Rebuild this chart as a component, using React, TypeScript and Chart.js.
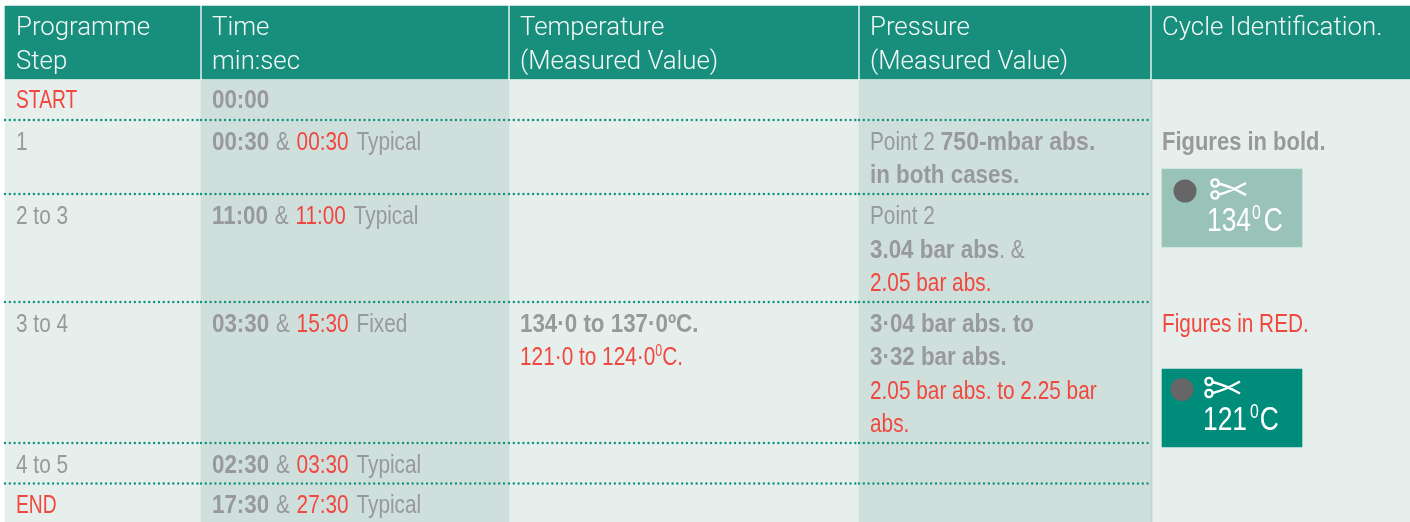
import React, { useEffect, useRef } from "react";
import { Chart, registerables } from "chart.js";

Chart.register(...registerables);

// ---- table content ----
const headerLines = [
  ["Programme", "Step"],
  ["Time", "min:sec"],
  ["Temperature", "(Measured Value)"],
  ["Pressure", "(Measured Value)"],
  ["Cycle Identification."],
];
const steps = ["START", "1", "2 to 3", "3 to 4", "4 to 5", "END"];
const startTime = "00:00";
const time134 = ["00:30", "11:00", "03:30", "02:30", "17:30"];
const time121 = ["00:30", "11:00", "15:30", "03:30", "27:30"];
const timeNotes = ["Typical", "Typical", "Fixed", "Typical", "Typical"];
const temp134 = "134·0 to 137·0ºC.";
const temp121 = ["121·0 to 124·0", "0", "C."];
const pressure1 = ["Point 2 ", "750-mbar abs.", "in both cases."];
const pressure2 = ["Point 2", "3.04 bar abs", ". &", "2.05 bar abs."];
const pressure3 = ["3·04 bar abs. to", "3·32 bar abs.", "2.05 bar abs. to 2.25 bar", "abs."];
const legendBold = "Figures in bold.";
const legendRed = "Figures in RED.";
const badge134 = ["134", "0", "C"];
const badge121 = ["121", "0", "C"];

// ---- layout on the chart's own pixel-like axes ----
const W = 1410;
const H = 522;
const colEdges = [5, 201, 509, 859, 1151, 1410];
const headerTop = 6;
const headerBottom = 79;
const rowLines = [120, 194, 302, 443, 483.5];
const GREEN = "#188e7d";
const BODY = "#e6efec";
const SHADE = "#cfe0dc";
const RED = "#f0483f";
const GREY = "#97999b";
const DOT = "#0f937f";

type Run = { t: string; c?: string; b?: boolean; sup?: boolean; sx?: number; gap?: number };

const FONT = '"Liberation Sans"';
const LIGHT = "Roboto";
const SX_REG = 0.8;
const SX_BOLD = 0.86;

function rect(x0: number, x1: number, y0: number, y1: number, color: string, order: number) {
  return {
    type: "bar" as const,
    indexAxis: "y" as const,
    data: [{ x: [x0, x1], y: (y0 + y1) / 2 }],
    backgroundColor: color,
    borderWidth: 0,
    barThickness: y1 - y0,
    grouped: false,
    order,
  };
}

function buildDatasets() {
  const ds: any[] = [];
  // body cells
  ds.push(rect(colEdges[0], W, headerBottom + 1, H, BODY, 9));
  ds.push(rect(colEdges[1], colEdges[2], headerBottom + 1, H, SHADE, 8));
  ds.push(rect(colEdges[3], colEdges[4], headerBottom + 1, H, SHADE, 8));
  ds.push(rect(colEdges[4], colEdges[4] + 1, headerBottom + 1, H, "#bcd8d1", 7));
  // header cells
  for (let i = 0; i < 5; i++) {
    ds.push(rect(colEdges[i] + (i ? 1 : 0), colEdges[i + 1] - (i < 4 ? 1 : 0), headerTop, headerBottom, GREEN, 7));
  }
  // badges
  ds.push(rect(1162, 1302, 169, 247, "#99c2b8", 6));
  ds.push(rect(1162, 1302, 369, 447, "#008c7a", 6));
  // dotted rules
  for (const y of rowLines) {
    for (let i = 0; i < 4; i++) {
      ds.push({
        type: "scatter",
        showLine: true,
        data: [
          { x: colEdges[i], y },
          { x: colEdges[i + 1] - 1, y },
        ],
        borderColor: DOT,
        borderWidth: 2.4,
        borderDash: [0.01, 4.8],
        borderCapStyle: "round",
        pointRadius: 0,
        order: 3,
      });
    }
  }
  // badge dots
  ds.push({
    type: "scatter",
    data: [
      { x: 1185, y: 191 },
      { x: 1182, y: 389.5 },
    ],
    pointRadius: 11.5,
    pointBackgroundColor: "#666666",
    pointBorderWidth: 0,
    order: 2,
  });
  return ds;
}

const textPlugin = {
  id: "tableText",
  afterDatasetsDraw(chart: any) {
    const { ctx, scales } = chart;
    const X = (v: number) => scales.x.getPixelForValue(v);
    const Y = (v: number) => scales.y.getPixelForValue(v);
    ctx.save();
    ctx.textBaseline = "alphabetic";
    ctx.textAlign = "left";

    const line = (x: number, y: number, runs: Run[], size = 26) => {
      let px = X(x);
      for (const r of runs) {
        const s = r.sup ? size * 0.6 : size;
        const sx = r.sx ?? (r.b ? SX_BOLD : SX_REG);
        ctx.font = `${r.b ? "bold " : ""}${s}px ${FONT}`;
        ctx.fillStyle = r.c ?? GREY;
        px += r.gap ?? 0;
        ctx.save();
        ctx.translate(px, Y(y) - (r.sup ? size * 0.36 : 0));
        ctx.scale(sx, 1);
        ctx.fillText(r.t, 0, 0);
        ctx.restore();
        px += ctx.measureText(r.t).width * sx;
      }
    };
    const hdr = (x: number, y: number, t: string) => {
      ctx.font = `300 25.8px ${LIGHT}`;
      ctx.fillStyle = "#f4f9f8";
      ctx.fillText(t, X(x), Y(y));
    };

    const textX = [16, 212, 520, 870, 1162];
    headerLines.forEach((lines, i) => {
      lines.forEach((t, j) => hdr(textX[i], 35 + j * 34, t));
    });

    const stepY = [108, 150, 224, 332, 473, 513];
    steps.forEach((s, i) => {
      const isRed = s === "START" || s === "END";
      line(textX[0], stepY[i], [{ t: s, c: isRed ? RED : GREY, sx: isRed ? 0.74 : undefined }]);
    });

    line(textX[1], stepY[0], [{ t: startTime, b: true }]);
    time134.forEach((t, i) =>
      line(textX[1], stepY[i + 1], [
        { t, b: true },
        { t: " & ", gap: 1 },
        { t: time121[i], c: RED, gap: 1 },
        { t: " " + timeNotes[i], gap: 2 },
      ])
    );

    line(textX[2], 332, [{ t: temp134, b: true }]);
    line(textX[2], 365, [
      { t: temp121[0], c: RED },
      { t: temp121[1], c: RED, sup: true },
      { t: temp121[2], c: RED },
    ]);

    line(textX[3], 150, [{ t: pressure1[0] }, { t: pressure1[1], b: true, sx: 0.885 }]);
    line(textX[3], 183, [{ t: pressure1[2], b: true }]);
    line(textX[3], 224, [{ t: pressure2[0] }]);
    line(textX[3], 258, [{ t: pressure2[1], b: true }, { t: pressure2[2] }]);
    line(textX[3], 291, [{ t: pressure2[3], c: RED }]);
    line(textX[3], 332, [{ t: pressure3[0], b: true }]);
    line(textX[3], 365, [{ t: pressure3[1], b: true }]);
    line(textX[3], 399, [{ t: pressure3[2], c: RED }]);
    line(textX[3], 432, [{ t: pressure3[3], c: RED }]);

    line(textX[4], 150, [{ t: legendBold, b: true, sx: 0.845 }]);
    line(textX[4], 332, [{ t: legendRed, c: RED }]);

    line(1207, 231, [
      { t: badge134[0], c: "#fff" },
      { t: badge134[1], c: "#fff", sup: true, gap: 1 },
      { t: badge134[2], c: "#fff", gap: 3 },
    ], 33);
    line(1203, 430, [
      { t: badge121[0], c: "#fff" },
      { t: badge121[1], c: "#fff", sup: true, gap: 3 },
      { t: badge121[2], c: "#fff", gap: 1 },
    ], 33);

    // scissors icons
    const scissors = (x: number, y: number) => {
      const ox = X(x);
      const oy = Y(y);
      ctx.strokeStyle = "#fff";
      ctx.lineWidth = 2.4;
      ctx.beginPath();
      ctx.arc(ox + 5, oy - 6, 3.6, 0, Math.PI * 2);
      ctx.moveTo(ox + 8.6, oy - 5.5);
      ctx.quadraticCurveTo(ox + 20, oy - 3, ox + 36, oy + 6);
      ctx.moveTo(ox + 8.6, oy + 6);
      ctx.arc(ox + 5, oy + 6, 3.6, 0, Math.PI * 2);
      ctx.moveTo(ox + 8.6, oy + 5.5);
      ctx.quadraticCurveTo(ox + 20, oy + 3, ox + 36, oy - 6);
      ctx.stroke();
    };
    scissors(1210, 189);
    scissors(1204, 387.5);
    ctx.restore();
  },
};

export default function App() {
  const ref = useRef<HTMLCanvasElement>(null);
  useEffect(() => {
    const chart = new Chart(ref.current!, {
      type: "bar",
      data: { datasets: buildDatasets() },
      plugins: [textPlugin],
      options: {
        animation: false,
        responsive: false,
        layout: { padding: 0, autoPadding: false },
        plugins: { legend: { display: false }, tooltip: { enabled: false } },
        scales: {
          x: { type: "linear", min: 0, max: W, display: false, offset: false },
          y: { type: "linear", min: 0, max: H, reverse: true, display: false, offset: false },
        },
      },
    } as any);
    return () => chart.destroy();
  }, []);
  return (
    <div style={{ position: "absolute", left: 0, top: 0, width: W, height: H }}>
      <canvas ref={ref} width={W} height={H} style={{ display: "block" }} />
    </div>
  );
}
